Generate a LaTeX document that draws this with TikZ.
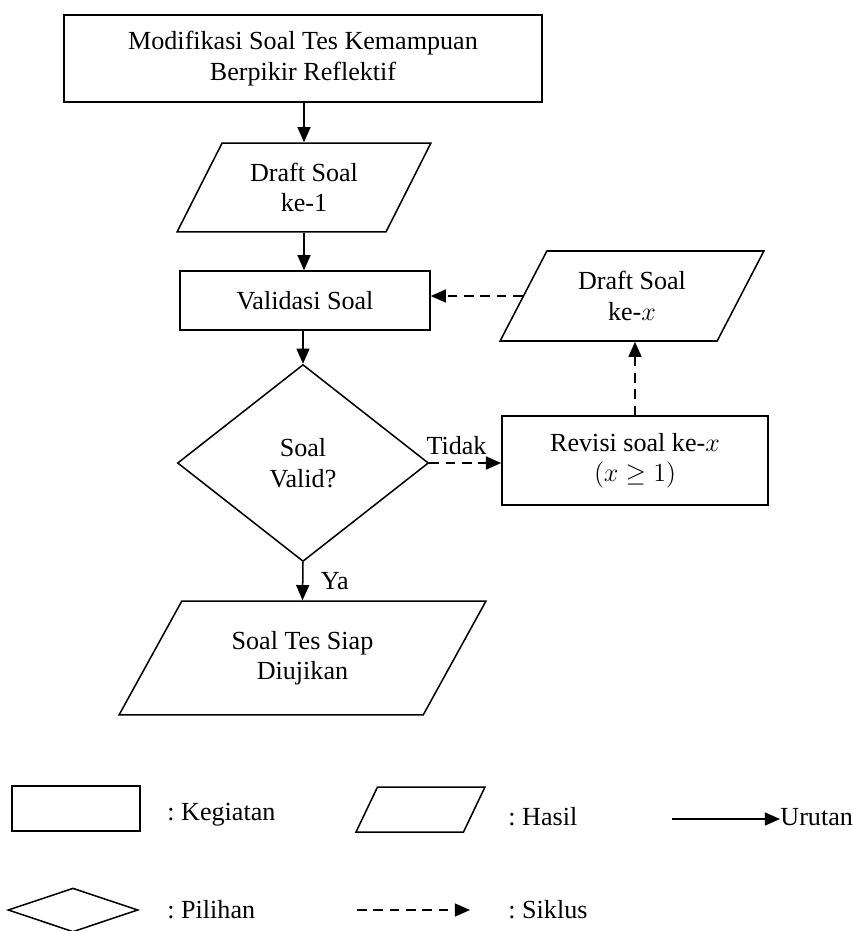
\documentclass[tikz,border=0pt]{standalone}
\usepackage{fontspec}
\setmainfont{Liberation Serif}
\usetikzlibrary{shapes.geometric,arrows.meta}
\frenchspacing

\begin{document}
\begin{tikzpicture}[x=0.46pt,y=-0.46pt,
  font=\fontsize{12}{14}\selectfont,
  kegiatan/.style={draw, line width=0.7pt, rectangle, align=center, inner sep=0pt},
  hasil/.style={draw, line width=0.7pt, trapezium, trapezium left angle=60, trapezium right angle=120, trapezium stretches=true, align=center, inner sep=1pt},
  pilihan/.style={draw, line width=0.7pt, diamond, align=center, inner sep=1pt},
  urutan/.style={line width=0.7pt, -{Triangle[length=7pt,width=6pt]}},
  siklus/.style={urutan, dash pattern=on 4.5pt off 3pt}]
  \useasboundingbox (0,0) rectangle (853,931);
  % alur utama
  \node[kegiatan, line width=1.1pt, minimum width=219.9pt, minimum height=40pt] (modif) at (303,58.5) {Modifikasi Soal Tes Kemampuan\\Berpikir Reflektif};
  \node[hasil, minimum width=117.8pt, minimum height=40.9pt] (draft1) at (304,187.5) {Draft Soal\\ke-1};
  \node[kegiatan, minimum width=115pt, minimum height=27.1pt] (validasi) at (305,300.5) {Validasi Soal};
  \node[pilihan, minimum width=115.5pt, minimum height=90.6pt] (valid) at (303,463) {Soal\\Valid?};
  \node[kegiatan, minimum width=122.4pt, minimum height=40.9pt] (revisi) at (635,460.5) {Revisi soal ke-$x$\\$(x\geq 1)$};
  \node[hasil, minimum width=122.4pt, minimum height=41.4pt] (draftx) at (632,296) {Draft Soal\\ke-$x$};
  \node[hasil, trapezium left angle=57, trapezium right angle=123, minimum width=168.8pt, minimum height=52.4pt] (siap) at (302.5,658) {Soal Tes Siap\\Diujikan};
  \draw[urutan] (draft1.north |- modif.south) -- (draft1.north);
  \draw[urutan] (draft1.south) -- (draft1.south |- validasi.north);
  \draw[urutan] (valid.north |- validasi.south) -- (valid.north);
  \draw[urutan] (valid.south) -- node[right, inner sep=8pt] {Ya} (siap.north);
  \draw[siklus] (valid.east) -- node[above, xshift=-4pt] {Tidak} (valid.east -| revisi.west);
  \draw[siklus] (revisi.north) -- (revisi.north |- draftx.south);
  \draw[siklus] (draftx.west) -- (draftx.west -| validasi.east);
  % keterangan
  \node[kegiatan, minimum width=58.9pt, minimum height=20.7pt] (lkegiatan) at (76,808.5) {};
  \node[anchor=west, inner sep=0pt] (tkegiatan) at (167,815) {: Kegiatan};
  \node[hasil, trapezium left angle=76, trapezium right angle=104, minimum width=59.3pt, minimum height=20.7pt] (lhasil) at (420.5,809.5) {};
  \node[anchor=west, inner sep=0pt] (thasil) at (508,817) {: Hasil};
  \coordinate (lurutan) at (672,819);
  \node[anchor=west, inner sep=0pt] (turutan) at (780,817) {Urutan};
  \draw[urutan] (lurutan) -- (lurutan -| turutan.west);
  \node[pilihan, minimum width=59.8pt, minimum height=20.2pt] (lpilihan) at (73,910) {};
  \node[anchor=west, inner sep=0pt] (tpilihan) at (167,910) {: Pilihan};
  \coordinate (lsiklus) at (357,910);
  \node[anchor=west, inner sep=0pt] (tsiklus) at (508,910) {: Siklus};
  \draw[siklus] (lsiklus) -- (470,910);
\end{tikzpicture}
\end{document}
